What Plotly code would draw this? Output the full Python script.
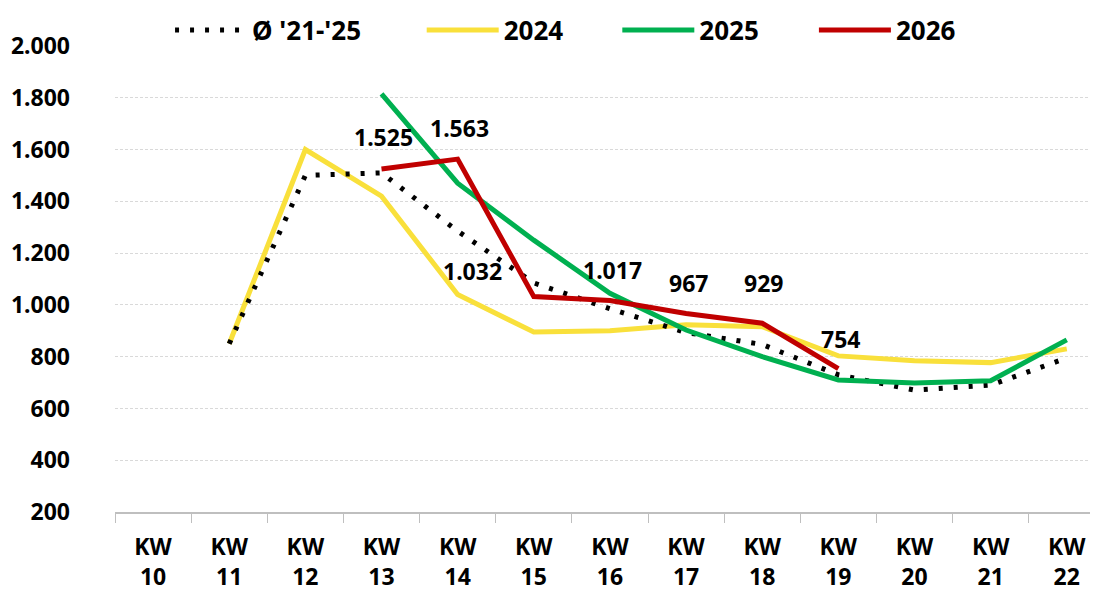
import plotly.graph_objects as go

# calendar weeks on the x axis
weeks = ["KW<br>10", "KW<br>11", "KW<br>12", "KW<br>13", "KW<br>14", "KW<br>15", "KW<br>16",
         "KW<br>17", "KW<br>18", "KW<br>19", "KW<br>20", "KW<br>21", "KW<br>22"]

# values (None = no value that week)
avg_21_25 = [None, 850, 1500, 1510, 1285, 1085, 985, 893, 847, 730, 671, 690, 795]
y2024 = [None, 850, 1600, 1420, 1040, 895, 900, 923, 916, 803, 784, 777, 830]
y2025 = [None, None, None, 1815, 1470, 1250, 1045, 903, 800, 710, 698, 707, 865]
y2026 = [None, None, None, 1525, 1563, 1032, 1017, 967, 929, 754, None, None, None]

# label offsets for the 2026 values (pixels)
label_dx = [0, 0, 0, 2, 2, -61, 3, 2, 1, 2, 0, 0, 0]
label_dy = [0, 0, 0, 32, 31, 26, 30, 30, 40, 30, 0, 0, 0]

FONT = "Noto Sans, Open Sans, sans-serif"

fig = go.Figure()

fig.add_trace(go.Scatter(x=weeks, y=y2024, name="2024", mode="lines",
                         line=dict(color="#F9E03B", width=5), legend="legend2"))
fig.add_trace(go.Scatter(x=weeks, y=avg_21_25, name="Ø '21-'25", mode="lines",
                         line=dict(color="black", width=5, dash="4px,11px"), legend="legend"))
fig.add_trace(go.Scatter(x=weeks, y=y2025, name="2025", mode="lines",
                         line=dict(color="#00B050", width=5), legend="legend3"))
fig.add_trace(go.Scatter(x=weeks, y=y2026, name="2026", mode="lines",
                         line=dict(color="#C00000", width=5), legend="legend4"))

# data labels on the 2026 line
for i, v in enumerate(y2026):
    if v is None:
        continue
    fig.add_annotation(x=weeks[i], y=v, text=f"{v:,}".replace(",", "."),
                       showarrow=False, xshift=label_dx[i], yshift=label_dy[i],
                       font=dict(family=FONT, size=23, color="black", weight="bold"))

leg = dict(orientation="h", yanchor="middle", y=1.034, xanchor="left",
           bgcolor="rgba(0,0,0,0)", itemwidth=72,
           font=dict(family=FONT, size=26, color="black", weight="bold"))

# page body adds an 8px margin, so the figure is 8px smaller than the window
fig.update_layout(
    width=1090, height=583,
    margin=dict(l=107, r=0, t=38, b=79, autoexpand=False),
    paper_bgcolor="white", plot_bgcolor="white",
    separators=",.",
    showlegend=True,
    font=dict(family=FONT, color="black", weight="bold"),
    legend={**leg, "x": 0.056},
    legend2={**leg, "x": 0.312},
    legend3={**leg, "x": 0.511},
    legend4={**leg, "x": 0.711},
    xaxis=dict(
        range=[-0.5, 12.41],
        showgrid=False,
        showline=True, linecolor="#BFBFBF", linewidth=1.5,
        ticks="outside", tickson="boundaries", ticklen=9, tickcolor="#BFBFBF",
        tickfont=dict(family=FONT, size=23, color="black", weight="bold"),
        ticklabelstandoff=14,
    ),
    yaxis=dict(
        range=[200, 2000], dtick=200, tickformat=",d",
        showgrid=True, gridcolor="#D9D9D9", gridwidth=1, griddash="3px,2px",
        zeroline=False, showline=False,
        tickfont=dict(family=FONT, size=23, color="black", weight="bold"),
        ticklabelstandoff=44,
    ),
)

fig.write_html("out.html")
